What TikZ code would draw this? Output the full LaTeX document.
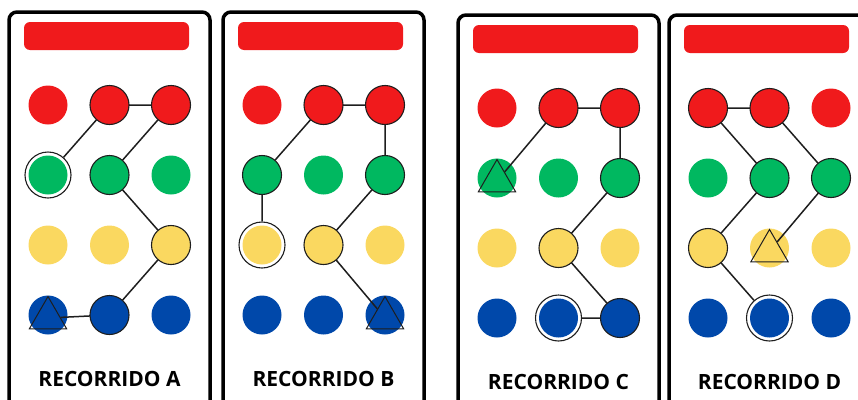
\documentclass[tikz,border=0pt]{standalone}
\usepackage{fontspec}
\setmainfont{Open Sans}
\usetikzlibrary{shapes.geometric}

\definecolor{dotred}{RGB}{240,26,28}
\definecolor{dotgreen}{RGB}{0,184,96}
\definecolor{dotyellow}{RGB}{250,216,96}
\definecolor{dotblue}{RGB}{0,72,170}
\definecolor{ink}{RGB}{30,30,30}

\begin{document}
\begin{tikzpicture}[x=1pt, y=-1pt,
  dot/.style={circle, fill=#1, minimum size=39pt, inner sep=0pt},
  rim/.style={draw=ink, line width=1.1pt},
  ring/.style={circle, draw=ink, line width=1.1pt, minimum size=46pt, inner sep=0pt},
  goal/.style={regular polygon, regular polygon sides=3, draw=ink, line width=1pt, minimum size=43pt, inner sep=0pt, yshift=-3pt},
  link/.style={draw=ink, line width=1.5pt},
  frame/.style={draw=black, line width=3.5pt, rounded corners=8pt},
  bar/.style={fill=dotred, rounded corners=6pt},
  title/.style={font=\fontsize{21}{25}\selectfont\bfseries}]

\clip (0,0) rectangle (858,399);

% panels: frame, red bar, grid of dots, caption
\foreach \p/\x/\y/\t in {a/48/105/A, b/262/105/B, c/497/108/C, d/708/108/D} {
  \begin{scope}[shift={(\x,\y)}]
  \draw[frame] (-39,-93) rectangle (162,330);
  \fill[bar] (-24,-83) rectangle (141,-55);
  \foreach \r/\c [count=\i from 0] in {R/dotred, G/dotgreen, Y/dotyellow, B/dotblue}
    \foreach \k in {1,2,3}
      \node[dot=\c] (\p\r\k) at ({61.5*(\k-1)}, {70*\i}) {};
  \node[title] (\p-title) at (61.5, 274) {RECORRIDO \t};
  \end{scope}
}

% recorrido A
\node[ring] (a-start) at (aG1) {};
\node[goal] (a-end) at (aB1) {};
\foreach \n in {aR2, aR3, aG2, aY3, aB2} \draw[rim] (\n) circle (19.5pt);
\draw[link] (a-start) -- (aR2) -- (aR3) -- (aG2) -- (aY3) -- (aB2) -- (a-end);

% recorrido B
\node[ring] (b-start) at (bY1) {};
\node[goal] (b-end) at (bB3) {};
\foreach \n in {bG1, bR2, bR3, bG3, bY2} \draw[rim] (\n) circle (19.5pt);
\draw[link] (b-start) -- (bG1) -- (bR2) -- (bR3) -- (bG3) -- (bY2) -- (b-end);

% recorrido C
\node[ring] (c-start) at (cB2) {};
\node[goal] (c-end) at (cG1) {};
\foreach \n in {cB3, cY2, cG3, cR3, cR2} \draw[rim] (\n) circle (19.5pt);
\draw[link] (c-start) -- (cB3) -- (cY2) -- (cG3) -- (cR3) -- (cR2) -- (c-end);

% recorrido D
\node[ring] (d-start) at (dB2) {};
\node[goal] (d-end) at (dY2) {};
\foreach \n in {dY1, dG2, dR1, dR2, dG3} \draw[rim] (\n) circle (19.5pt);
\draw[link] (d-start) -- (dY1) -- (dG2) -- (dR1) -- (dR2) -- (dG3) -- (d-end);

\end{tikzpicture}
\end{document}
